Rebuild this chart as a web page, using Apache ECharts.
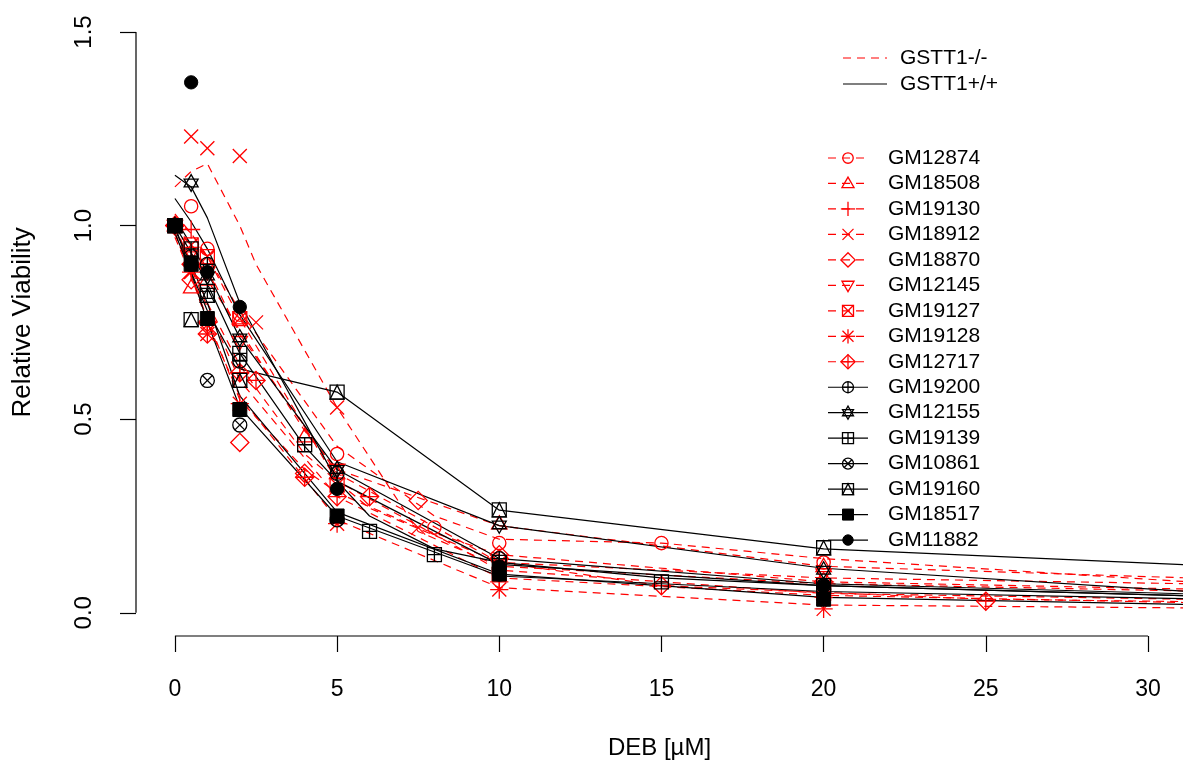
<!DOCTYPE html>
<html><head><meta charset="utf-8">
<script src="https://cdn.jsdelivr.net/npm/echarts@6/dist/echarts.min.js"></script>
<style>html,body{margin:0;padding:0;background:#fff}#c{width:1183px;height:765px}</style>
</head><body><div id="c"></div>
<script>
// ---------- data ----------
const xTicks = [0, 5, 10, 15, 20, 25, 30];
const yTicks = [0, 0.5, 1.0, 1.5];
const groupLabels = ['GSTT1-/-', 'GSTT1+/+'];
const nullLines = ['GM12874','GM18508','GM19130','GM18912','GM18870','GM12145','GM19127','GM19128','GM12717'];
const posLines  = ['GM19200','GM12155','GM19139','GM10861','GM19160','GM18517','GM11882'];

const GM12874_dose = [0,0.5,1,2,5,8,10,15,20,35];
const GM12874_obs  = [1.00,1.05,0.94,0.77,0.41,0.22,0.18,0.18,0.13,null];
const GM12874_fit  = [1.02,0.98,0.92,0.78,0.43,0.25,0.19,0.18,0.14,0.06];

const GM18508_dose = [0,0.5,1,2,4,5,10,20,35];
const GM18508_obs  = [1.00,0.84,0.86,0.76,0.455,0.36,0.23,0.12,null];
const GM18508_fit  = [1.00,0.93,0.86,0.73,0.47,0.37,0.225,0.12,0.08];

const GM19130_dose = [0,0.5,1,2,5,10,20,35];
const GM19130_obs  = [1.00,0.99,0.75,0.62,0.30,0.08,0.04,null];
const GM19130_fit  = [0.98,0.89,0.79,0.60,0.30,0.09,0.045,0.02];

const GM18912_dose = [0,0.5,1,2,2.5,5,7.5,10,20,35];
const GM18912_obs  = [1.00,1.23,1.20,1.18,0.75,0.53,0.22,0.13,0.07,null];
const GM18912_fit  = [1.10,1.14,1.16,1.00,0.90,0.53,0.21,0.12,0.075,0.05];

const GM18870_dose = [0,0.5,1,2,4,5,7.5,10,20,35];
const GM18870_obs  = [1.00,0.86,0.72,0.44,0.36,0.30,0.29,0.15,0.08,null];
const GM18870_fit  = [0.97,0.87,0.76,0.55,0.37,0.31,0.22,0.15,0.08,0.055];

const GM12145_dose = [0,0.5,1,2,5,10,20,35];
const GM12145_obs  = [1.00,0.93,0.88,0.70,0.37,0.12,0.10,null];
const GM12145_fit  = [1.00,0.95,0.89,0.72,0.36,0.13,0.09,0.07];

const GM19127_dose = [0,0.5,1,2,5,10,20,35];
const GM19127_obs  = [1.00,0.95,0.92,0.76,0.33,0.10,0.05,null];
const GM19127_fit  = [1.03,0.98,0.92,0.76,0.34,0.11,0.05,0.03];

const GM19128_dose = [0,0.5,1,2,5,10,20,35];
const GM19128_obs  = [1.00,0.88,0.72,0.54,0.23,0.06,0.01,null];
const GM19128_fit  = [0.98,0.87,0.75,0.56,0.24,0.065,0.02,0.01];

const GM12717_dose = [0,0.5,1,2,2.5,4,6,10,15,25,35];
const GM12717_obs  = [1.00,0.90,0.75,0.62,0.60,0.35,0.30,0.14,0.07,0.03,null];
const GM12717_fit  = [1.00,0.90,0.80,0.64,0.58,0.41,0.27,0.13,0.07,0.035,0.025];

const GM19200_dose = [0,0.5,1,2,5,10,20,35];
const GM19200_obs  = [1.00,0.92,0.90,0.65,0.36,0.14,0.07,null];
const GM19200_fit  = [1.02,0.95,0.88,0.71,0.37,0.14,0.075,0.04];

const GM12155_dose = [0,0.5,1,2,5,10,20,35];
const GM12155_obs  = [1.00,1.11,0.87,0.71,0.37,0.227,0.11,null];
const GM12155_fit  = [1.07,1.01,0.94,0.77,0.39,0.225,0.115,0.035];

const GM19139_dose = [0,0.5,1,2,4,6,8,10,15,20,35];
const GM19139_obs  = [1.00,0.94,0.83,0.67,0.434,0.21,0.15,0.13,0.08,0.07,null];
const GM19139_fit  = [1.00,0.93,0.85,0.67,0.43,0.25,0.165,0.13,0.09,0.07,0.035];

const GM10861_dose = [0,0.5,1,2,5,10,20,35];
const GM10861_obs  = [1.00,0.90,0.60,0.485,0.24,0.10,0.06,null];
const GM10861_fit  = [0.98,0.88,0.75,0.53,0.25,0.095,0.055,0.03];

const GM19160_dose = [0,0.5,1,2,5,10,20,35];
const GM19160_obs  = [1.00,0.757,0.82,0.60,0.57,0.266,0.168,null];
const GM19160_fit  = [1.00,0.88,0.78,0.63,0.57,0.265,0.165,0.11];

const GM18517_dose = [0,0.5,1,2,5,10,20,35];
const GM18517_obs  = [1.00,0.90,0.76,0.525,0.25,0.10,0.035,null];
const GM18517_fit  = [0.99,0.90,0.80,0.56,0.26,0.10,0.04,0.015];

const GM11882_dose = [0,0.5,1,2,5,10,20,35];
const GM11882_obs  = [1.00,1.37,0.88,0.79,0.32,0.12,0.07,null];
const GM11882_fit  = [1.13,1.10,1.02,0.80,0.34,0.125,0.07,0.035];

const table = {
  GM12874:[GM12874_dose,GM12874_obs,GM12874_fit], GM18508:[GM18508_dose,GM18508_obs,GM18508_fit],
  GM19130:[GM19130_dose,GM19130_obs,GM19130_fit], GM18912:[GM18912_dose,GM18912_obs,GM18912_fit],
  GM18870:[GM18870_dose,GM18870_obs,GM18870_fit], GM12145:[GM12145_dose,GM12145_obs,GM12145_fit],
  GM19127:[GM19127_dose,GM19127_obs,GM19127_fit], GM19128:[GM19128_dose,GM19128_obs,GM19128_fit],
  GM12717:[GM12717_dose,GM12717_obs,GM12717_fit], GM19200:[GM19200_dose,GM19200_obs,GM19200_fit],
  GM12155:[GM12155_dose,GM12155_obs,GM12155_fit], GM19139:[GM19139_dose,GM19139_obs,GM19139_fit],
  GM10861:[GM10861_dose,GM10861_obs,GM10861_fit], GM19160:[GM19160_dose,GM19160_obs,GM19160_fit],
  GM18517:[GM18517_dose,GM18517_obs,GM18517_fit], GM11882:[GM11882_dose,GM11882_obs,GM11882_fit]
};

// ---------- styling / layout ----------
const RED = '#ff0000', BLACK = '#000000';
const FONT = '"Liberation Sans", Arial, sans-serif';
const DASH = [8, 6];
const xMin = -1.2, xMax = 31.08, yMin = -0.06, yMax = 1.56;
const allLines = nullLines.concat(posLines);

function marker(pch, x, y, s, color) {
  const st = {fill: 'none', stroke: color, lineWidth: 1.3};
  const L = (x1,y1,x2,y2) => ({type:'line', shape:{x1:x+x1,y1:y+y1,x2:x+x2,y2:y+y2}, style:st});
  const C = (r) => ({type:'circle', shape:{cx:x,cy:y,r:r}, style:st});
  const P = (pts, fill) => ({type:'polygon', shape:{points:pts.map(p=>[x+p[0],y+p[1]])},
                             style: fill ? {fill:color, stroke:color, lineWidth:1} : st});
  const sq  = [[-s,-s],[s,-s],[s,s],[-s,s]];
  const tri = [[0,-s*1.15],[s*1.1,s*0.75],[-s*1.1,s*0.75]];
  const dtri= [[0,s*1.15],[s*1.1,-s*0.75],[-s*1.1,-s*0.75]];
  const dia = [[0,-s*1.3],[s*1.3,0],[0,s*1.3],[-s*1.3,0]];
  const k = s*1.3;
  switch (pch) {
    case 1:  return {type:'group', children:[C(s*0.95)]};
    case 2:  return {type:'group', children:[P(tri)]};
    case 3:  return {type:'group', children:[L(-k,0,k,0), L(0,-k,0,k)]};
    case 4:  return {type:'group', children:[L(-s,-s,s,s), L(-s,s,s,-s)]};
    case 5:  return {type:'group', children:[P(dia)]};
    case 6:  return {type:'group', children:[P(dtri)]};
    case 7:  return {type:'group', children:[P(sq), L(-s,-s,s,s), L(-s,s,s,-s)]};
    case 8:  return {type:'group', children:[L(-k,0,k,0), L(0,-k,0,k), L(-s,-s,s,s), L(-s,s,s,-s)]};
    case 9:  return {type:'group', children:[P(dia), L(-k,0,k,0), L(0,-k,0,k)]};
    case 10: return {type:'group', children:[C(s), L(-s,0,s,0), L(0,-s,0,s)]};
    case 11: return {type:'group', children:[P([[0,-s*1.2],[s,s*0.55],[-s,s*0.55]]), P([[0,s*1.2],[s,-s*0.55],[-s,-s*0.55]])]};
    case 12: return {type:'group', children:[P(sq), L(-s,0,s,0), L(0,-s,0,s)]};
    case 13: return {type:'group', children:[C(s), L(-s*0.7,-s*0.7,s*0.7,s*0.7), L(-s*0.7,s*0.7,s*0.7,-s*0.7)]};
    case 14: return {type:'group', children:[P(sq), P([[0,-s],[s,s],[-s,s]])]};
    case 15: return {type:'group', children:[P(sq, true)]};
    default: return {type:'group', children:[{type:'circle', shape:{cx:x,cy:y,r:s*0.95}, style:{fill:color, stroke:color, lineWidth:1}}]};
  }
}

const series = [];
allLines.forEach((name, i) => {
  const [dose, obs, fit] = table[name];
  const isNull = i < nullLines.length;
  const color = isNull ? RED : BLACK;
  series.push({
    type: 'line', name: name + ' fit', data: dose.map((d, j) => [d, fit[j]]),
    showSymbol: false, symbol: 'none', silent: true, animation: false, clip: true, z: 2,
    lineStyle: {color: color, width: 1.2, type: isNull ? DASH : 'solid'}
  });
  series.push({
    type: 'custom', name: name, silent: true, animation: false, clip: true, z: 3,
    data: dose.map((d, j) => [d, obs[j]]).filter(p => p[1] !== null),
    renderItem: (params, api) => {
      const p = api.coord([api.value(0), api.value(1)]);
      return marker(i + 1, p[0], p[1], 7, color);
    }
  });
});

// R-style axis lines spanning only the tick range
series.push({
  type: 'custom', silent: true, animation: false, clip: false, z: 5, data: [[0, 0]],
  renderItem: (params, api) => {
    const a = api.coord([xMin, yTicks[0]]), b = api.coord([xMin, yTicks[yTicks.length-1]]);
    const c = api.coord([xTicks[0], yMin]), d = api.coord([xTicks[xTicks.length-1], yMin]);
    const st = {stroke: BLACK, lineWidth: 1.2};
    return {type: 'group', children: [
      {type:'line', shape:{x1:a[0],y1:a[1],x2:b[0],y2:b[1]}, style:st},
      {type:'line', shape:{x1:c[0],y1:c[1],x2:d[0],y2:d[1]}, style:st}
    ]};
  }
});

// legends (drawn as graphics)
const graphics = [];
const topRows = [58, 84];
groupLabels.forEach((lab, i) => {
  graphics.push({type:'line', shape:{x1:843,y1:topRows[i],x2:887,y2:topRows[i]},
    style:{stroke: i===0?RED:BLACK, lineWidth:1.2, lineDash: i===0?DASH:null}});
  graphics.push({type:'text', x:900, y:topRows[i],
    style:{text:lab, fill:BLACK, font:'21px ' + FONT, verticalAlign:'middle', align:'left'}});
});
allLines.forEach((name, i) => {
  const y = 158 + 25.47 * i;
  const isNull = i < nullLines.length;
  const color = isNull ? RED : BLACK;
  graphics.push({type:'line', shape:{x1:828,y1:y,x2:868,y2:y},
    style:{stroke: color, lineWidth:1.2, lineDash: isNull?DASH:null}});
  graphics.push(marker(i + 1, 848, y, 5.5, color));
  graphics.push({type:'text', x:888, y:y,
    style:{text:name, fill:BLACK, font:'21px ' + FONT, verticalAlign:'middle', align:'left'}});
});

const chart = echarts.init(document.getElementById('c'), null, {renderer:'canvas'});
chart.setOption({
  animation: false,
  backgroundColor: '#ffffff',
  grid: {left: 136, right: 0, top: 8.8, bottom: 128.8, containLabel: false},
  xAxis: {
    type: 'value', min: xMin, max: xMax,
    splitLine: {show: false}, axisLine: {show: false, onZero: false},
    axisTick: {show: true, customValues: xTicks, length: 16, lineStyle: {color: BLACK, width: 1.2}},
    axisLabel: {customValues: xTicks, margin: 42, fontSize: 23, color: BLACK, fontFamily: FONT},
    name: 'DEB [µM]', nameLocation: 'middle', nameGap: 100,
    nameTextStyle: {fontSize: 24, color: BLACK, fontFamily: FONT}
  },
  yAxis: {
    type: 'value', min: yMin, max: yMax,
    splitLine: {show: false}, axisLine: {show: false, onZero: false},
    axisTick: {show: true, customValues: yTicks, length: 16, lineStyle: {color: BLACK, width: 1.2}},
    axisLabel: {customValues: yTicks, margin: 40, rotate: 90, fontSize: 24, color: BLACK, fontFamily: FONT,
                formatter: v => Number(v).toFixed(1)},
    name: 'Relative Viability', nameLocation: 'middle', nameGap: 100,
    nameTextStyle: {fontSize: 26, color: BLACK, fontFamily: FONT}
  },
  series: series,
  graphic: {elements: graphics}
});
</script>
</body></html>
